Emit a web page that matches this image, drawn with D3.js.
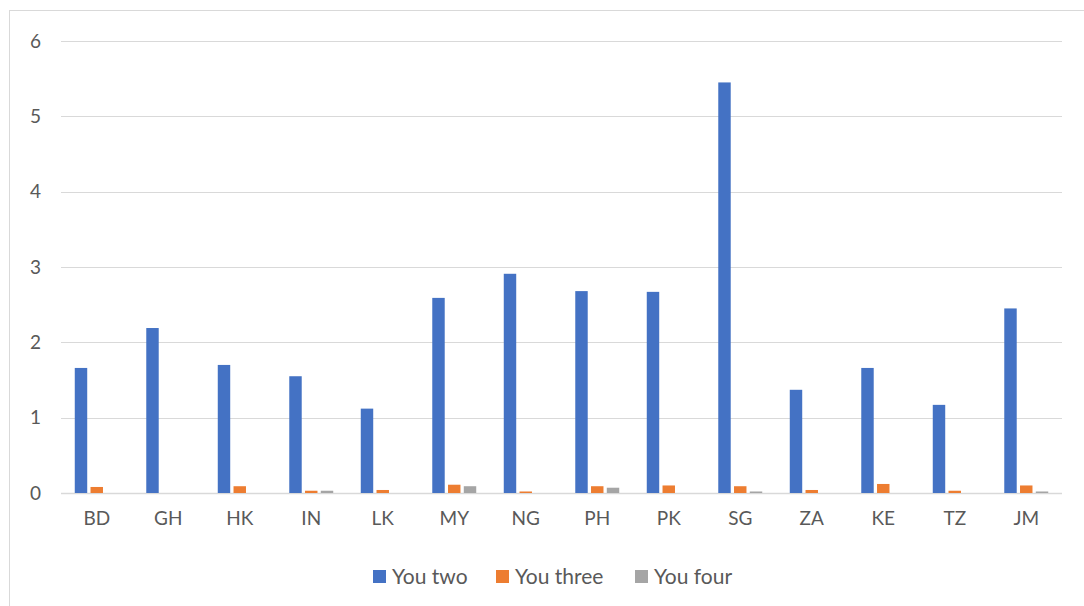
<!DOCTYPE html>
<html>
<head>
<meta charset="utf-8">
<script src="https://cdn.jsdelivr.net/npm/d3@7"></script>
<style>
  html, body { margin: 0; padding: 0; background: #ffffff; }
  svg { display: block; font-family: Lato, "Open Sans", "Liberation Sans", sans-serif; }
</style>
</head>
<body>
<svg id="chart" width="1084" height="606"></svg>
<script>
// Country codes along the x axis
const categories = ["BD", "GH", "HK", "IN", "LK", "MY", "NG", "PH", "PK", "SG", "ZA", "KE", "TZ", "JM"];
const seriesNames = ["You two", "You three", "You four"];
const seriesColors = ["#4472c4", "#ed7d31", "#a5a5a5"];

// Values per series, one per country
const youTwo   = [1.66, 2.19, 1.70, 1.55, 1.12, 2.59, 2.91, 2.68, 2.67, 5.45, 1.37, 1.66, 1.17, 2.45];
const youThree = [0.08, 0.00, 0.09, 0.03, 0.04, 0.11, 0.02, 0.09, 0.10, 0.09, 0.04, 0.12, 0.03, 0.10];
const youFour  = [0.00, 0.00, 0.00, 0.03, 0.00, 0.09, 0.00, 0.07, 0.00, 0.02, 0.00, 0.00, 0.00, 0.02];

const yTicks = [0, 1, 2, 3, 4, 5, 6];

const seriesValues = [youTwo, youThree, youFour];
const rows = categories.map((c, i) => ({
  cat: c,
  vals: seriesNames.map((s, k) => ({ series: s, color: seriesColors[k], value: seriesValues[k][i] }))
}));

const svg = d3.select("#chart");
const textColor = "#595959";
const gridColor = "#d9d9d9";

// Outer chart frame
svg.append("rect")
  .attr("x", 9.5).attr("y", 10.5)
  .attr("width", 1100).attr("height", 620)
  .attr("fill", "none").attr("stroke", gridColor).attr("stroke-width", 1);

const plot = { left: 61, right: 1062, top: 41, bottom: 493 };

const y = d3.scaleLinear().domain([0, 6]).range([plot.bottom, plot.top]);

const x0 = d3.scaleBand()
  .domain(categories)
  .range([plot.left, plot.right])
  .paddingInner(0.385)
  .paddingOuter(0.1925);

const x1 = d3.scaleBand()
  .domain(seriesNames)
  .range([0, x0.bandwidth()])
  .paddingInner(0.21);

// Horizontal gridlines
svg.append("g")
  .selectAll("line")
  .data(yTicks)
  .join("line")
  .attr("x1", plot.left).attr("x2", plot.right)
  .attr("y1", d => Math.round(y(d)) + 0.5)
  .attr("y2", d => Math.round(y(d)) + 0.5)
  .attr("stroke", gridColor)
  .attr("stroke-width", d => d === 0 ? 1.5 : 1);

// Y axis tick labels
const yAxis = d3.axisLeft(y).tickValues(yTicks).tickSize(0).tickPadding(0).tickFormat(d3.format("d"));
const yAxisG = svg.append("g")
  .attr("transform", `translate(${41},0)`)
  .call(yAxis);
yAxisG.select(".domain").remove();
yAxisG.selectAll("text")
  .attr("fill", textColor)
  .attr("font-size", 19)
  .attr("font-family", "Lato, 'Open Sans', sans-serif");

// Bars
const groups = svg.append("g")
  .selectAll("g")
  .data(rows)
  .join("g")
  .attr("transform", d => `translate(${x0(d.cat)},0)`);

groups.selectAll("rect")
  .data(d => d.vals.filter(v => v.value > 0))
  .join("rect")
  .attr("x", d => x1(d.series))
  .attr("width", x1.bandwidth())
  .attr("y", d => y(d.value))
  .attr("height", d => y(0) - y(d.value))
  .attr("fill", d => d.color);

// X axis category labels
const xAxis = d3.axisBottom(x0).tickSize(0).tickPadding(0);
const xAxisG = svg.append("g")
  .attr("transform", `translate(0,${511})`)
  .call(xAxis);
xAxisG.select(".domain").remove();
xAxisG.selectAll("text")
  .attr("fill", textColor)
  .attr("font-size", 19)
  .attr("font-family", "Lato, 'Open Sans', sans-serif");

// Legend
const legendItems = [
  { name: seriesNames[0], color: seriesColors[0], x: 373 },
  { name: seriesNames[1], color: seriesColors[1], x: 496 },
  { name: seriesNames[2], color: seriesColors[2], x: 635 }
];
const legend = svg.append("g");
const li = legend.selectAll("g")
  .data(legendItems)
  .join("g")
  .attr("transform", d => `translate(${d.x},570)`);
li.append("rect")
  .attr("width", 13).attr("height", 13)
  .attr("fill", d => d.color);
li.append("text")
  .attr("x", 19).attr("y", 14)
  .attr("fill", textColor)
  .attr("font-size", 21)
  .text(d => d.name);
</script>
</body>
</html>
